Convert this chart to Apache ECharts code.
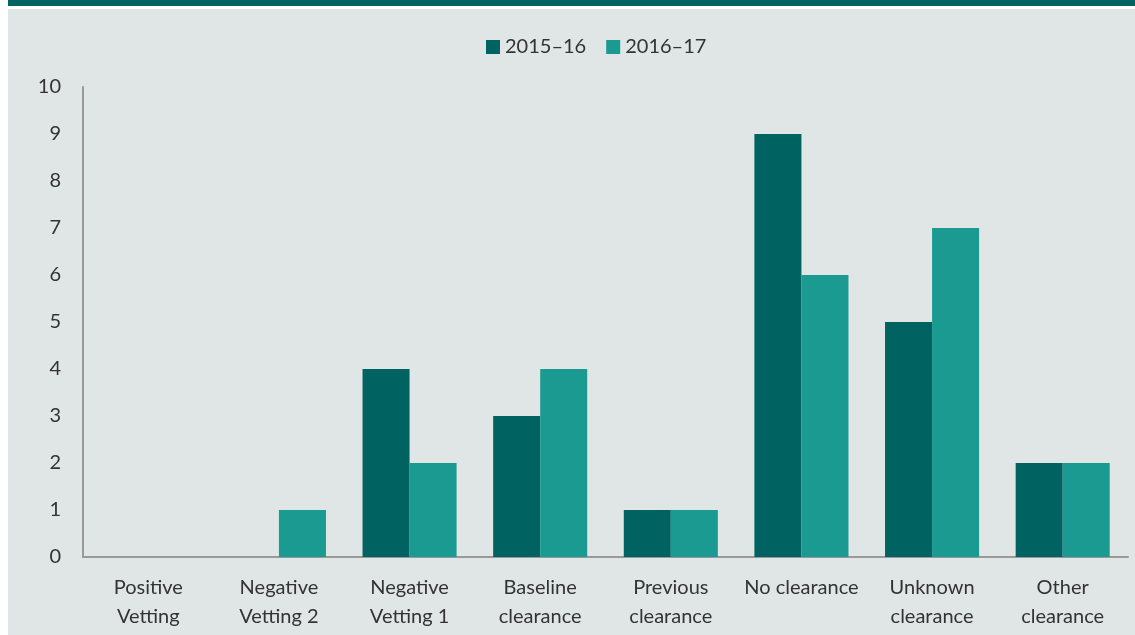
<!DOCTYPE html>
<html>
<head>
<meta charset="utf-8">
<script src="https://cdn.jsdelivr.net/npm/echarts@6/dist/echarts.min.js"></script>
<style>
html, body { margin: 0; padding: 0; background: #ffffff; }
#main { width: 1135px; height: 635px; }
</style>
</head>
<body>
<div id="main"></div>
<script>
var categories = ['Positive\nVetting', 'Negative\nVetting 2', 'Negative\nVetting 1', 'Baseline\nclearance',
    'Previous\nclearance', 'No clearance', 'Unknown\nclearance', 'Other\nclearance'];
var values2015 = [0, 0, 4, 3, 1, 9, 5, 2];
var values2016 = [0, 1, 2, 4, 1, 6, 7, 2];

var myChart = echarts.init(document.getElementById('main'));

var font = 'Lato, "Open Sans", sans-serif';

var option = {
    backgroundColor: '#e0e6e5',
    textStyle: { fontFamily: font, color: '#333' },
    color: ['#006261', '#1b9a91'],
    animation: false,
    graphic: [
        { type: 'rect', left: 0, top: 0, shape: { width: 8, height: 635 }, style: { fill: '#ffffff' } },
        { type: 'rect', left: 8, top: 0, shape: { width: 1127, height: 6 }, style: { fill: '#006261' } },
        { type: 'rect', left: 8, top: 6, shape: { width: 1127, height: 3 }, style: { fill: '#ffffff' } }
    ],
    legend: {
        top: 32,
        left: 481,
        itemWidth: 14,
        itemHeight: 14,
        itemGap: 20,
        icon: 'rect',
        textStyle: { fontSize: 20, color: '#333', fontFamily: font },
        data: ['2015–16', '2016–17']
    },
    grid: { left: 83, right: 7, top: 87, bottom: 78 },
    xAxis: {
        type: 'category',
        data: categories,
        axisLine: { lineStyle: { color: '#999', width: 2 } },
        axisTick: { show: false },
        axisLabel: { fontSize: 20, color: '#333', lineHeight: 29, margin: 16, interval: 0 }
    },
    yAxis: {
        type: 'value',
        min: 0,
        max: 10,
        interval: 1,
        axisLine: { show: true, lineStyle: { color: '#999', width: 2 } },
        axisTick: { show: false },
        splitLine: { show: false },
        axisLabel: { fontSize: 20, color: '#333', margin: 22 }
    },
    series: [{
        name: '2015–16',
        type: 'bar',
        data: values2015,
        barGap: '0%',
        barCategoryGap: '28%'
    }, {
        name: '2016–17',
        type: 'bar',
        data: values2016
    }]
};

myChart.setOption(option);
</script>
</body>
</html>
